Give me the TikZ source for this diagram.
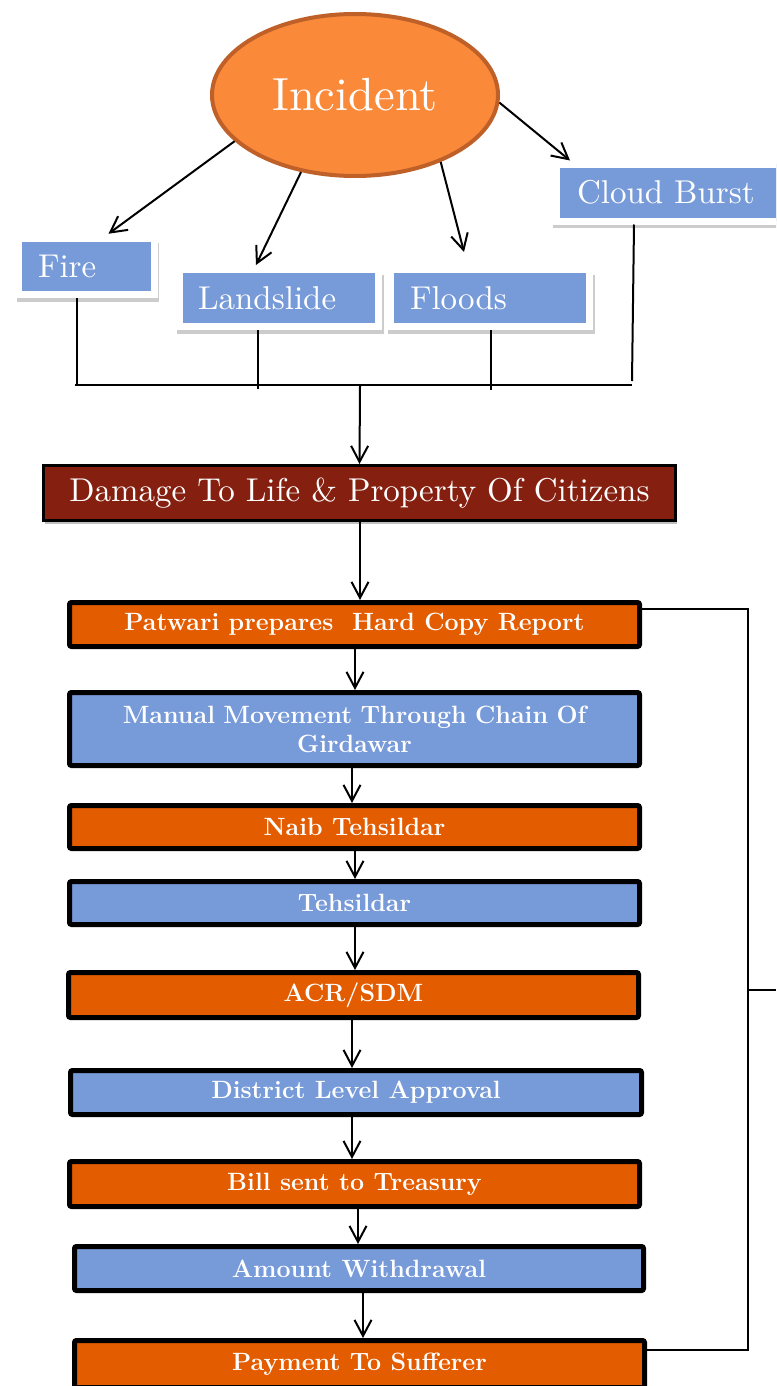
\documentclass[tikz,border=0pt]{standalone}
\usepackage{fontspec}
\newfontfamily\regfont{lmroman10-regular.otf}
\usetikzlibrary{arrows.meta,shapes.geometric,shadows,calc}
\definecolor{incfill}{RGB}{250,138,58}
\definecolor{incdraw}{RGB}{190,96,40}
\definecolor{boxblue}{RGB}{119,154,216}
\definecolor{boxorange}{RGB}{228,92,0}
\definecolor{darkred}{RGB}{133,32,16}
\tikzset{
  conn/.style={line width=2pt},
  arr/.style={line width=2pt,-{Straight Barb[length=16pt,width=17pt]}},
  catbox/.style={fill=boxblue,draw=white,line width=7pt,text=white,
    font=\regfont\fontsize{33}{36}\selectfont,align=left,inner ysep=0pt,
    drop shadow={shadow xshift=1.5pt,shadow yshift=-6pt,shadow scale=1.04,opacity=0.2,fill=black}},
  flowbox/.style={draw=black,line width=5pt,rounded corners=2pt,text=white,
    font=\bfseries\fontsize{25}{29}\selectfont,align=center,inner sep=0pt,
    minimum width=570pt},
  bluebox/.style={flowbox,fill=boxblue},
  orangebox/.style={flowbox,fill=boxorange},
}
\begin{document}
\begin{tikzpicture}[x=1pt,y=-1pt]
\clip (0,0) rectangle (776,1386);
\fill[white] (0,0) rectangle (776,1386);

% incident
\node[ellipse,fill=incfill,draw=incdraw,line width=4pt,minimum width=286pt,
  minimum height=162pt,text=white,font=\regfont\fontsize{46.5}{50}\selectfont] (inc) at (355,95) {Incident};

% categories
\node[catbox,text width=97pt,inner xsep=19.5pt,minimum height=56.5pt] (fire) at (86.5,266.5) {Fire};
\node[catbox,text width=162pt,inner xsep=18.5pt,minimum height=57pt] (landslide) at (279,298) {Landslide};
\node[catbox,text width=160pt,inner xsep=19.5pt,minimum height=57pt] (floods) at (490,298) {Floods};
\node[catbox,text width=196pt,inner xsep=20.5pt,minimum height=57pt] (cloud) at (675,192.5) {Cloud Burst};

\draw[arr] (inc.201) -- ($(fire.north)+(22,-1)$);
\draw[arr] (inc.235) -- ($(landslide.north)+(-23,-1)$);
\draw[arr] (inc.322) -- ($(floods.north)+(-26,-14)$);
\draw[arr] (inc.357) -- ($(cloud.north)+(-105,0)$);

% bus
\coordinate (busL) at (75,385);
\coordinate (busR) at (632,385);
\coordinate (busM) at (360,386);
\coordinate (fireDrop) at ($(fire.south)+(-10,0)$);
\coordinate (landDrop) at ($(landslide.south)+(-21,0)$);
\coordinate (floodDrop) at ($(floods.south)+(1,0)$);
\coordinate (cloudDrop) at ($(cloud.south)+(-41,0)$);
\draw[conn] (fireDrop) -- (fireDrop |- busL);
\draw[conn] (landDrop) -- ($(landDrop |- busL)+(0,4)$);
\draw[conn] (floodDrop) -- ($(floodDrop |- busL)+(0,5)$);
\draw[conn] (cloudDrop) -- ($(busR)+(0,-4)$);
\draw[conn] (busL) -- (busR);

% damage
\node[fill=darkred,draw=black,line width=3pt,minimum width=632pt,minimum height=55pt,
  text=white,font=\regfont\fontsize{33}{36}\selectfont,
  drop shadow={shadow xshift=1pt,shadow yshift=-3pt,opacity=0.25,fill=black}] (dmg) at (359.5,493)
  {Damage To Life \& Property Of Citizens};
\draw[arr] (busM) -- (dmg.north);

% flow
\node[orangebox,minimum height=44pt] (patwari) at (354.5,624.5) {Patwari prepares\ \ Hard Copy Report};
\node[bluebox,minimum height=73pt,text width=520pt] (manual) at (354.5,729) {Manual Movement Through Chain Of\\Girdawar};
\node[orangebox,minimum height=43pt] (naib) at (354.5,827) {Naib Tehsildar};
\node[bluebox,minimum height=43pt] (tehs) at (354.5,903) {Tehsildar};
\node[orangebox,minimum height=45pt] (acr) at (353.5,995) {ACR/SDM};
\node[bluebox,minimum height=44pt,minimum width=571pt] (dist) at (356,1092.5) {District Level Approval};
\node[orangebox,minimum height=45pt] (bill) at (354.5,1184) {Bill sent to Treasury};
\node[bluebox,minimum height=44pt,minimum width=569pt] (amount) at (359,1268.5) {Amount Withdrawal};
\node[orangebox,minimum height=47pt] (pay) at (359.5,1364) {Payment To Sufferer};

\coordinate (s0) at ($(dmg.south)+(0.5,0)$);
\coordinate (s1) at ($(patwari.south)+(0.5,0)$);
\coordinate (s2) at ($(manual.south)+(-2.5,0)$);
\coordinate (s3) at ($(naib.south)+(0.5,0)$);
\coordinate (s4) at ($(tehs.south)+(0.5,0)$);
\coordinate (s5) at ($(acr.south)+(-1.5,0)$);
\coordinate (s6) at ($(dist.south)+(-4,0)$);
\coordinate (s7) at ($(bill.south)+(3.5,0)$);
\coordinate (s8) at ($(amount.south)+(4,0)$);
\draw[arr] (s0) -- (s0 |- patwari.north);
\draw[arr] (s1) -- (s1 |- manual.north);
\draw[arr] (s2) -- (s2 |- naib.north);
\draw[arr] (s3) -- (s3 |- tehs.north);
\draw[arr] (s4) -- (s4 |- acr.north);
\draw[arr] (s5) -- (s5 |- dist.north);
\draw[arr] (s6) -- (s6 |- bill.north);
\draw[arr] (s7) -- (s7 |- amount.north);
\draw[arr] (s8) -- (s8 |- pay.north);

% feedback loop
\coordinate (loopX) at (748,0);
\coordinate (pwOut) at ($(patwari.east)+(0,-15.5)$);
\coordinate (payOut) at ($(pay.east)+(0,-14)$);
\coordinate (tickY) at (0,990);
\coordinate (tickEnd) at (776,990);
\draw[conn] (pwOut) -- (pwOut -| loopX) -- (payOut -| loopX) -- (payOut);
\draw[conn] (loopX |- tickY) -- (tickEnd);
\end{tikzpicture}
\end{document}
